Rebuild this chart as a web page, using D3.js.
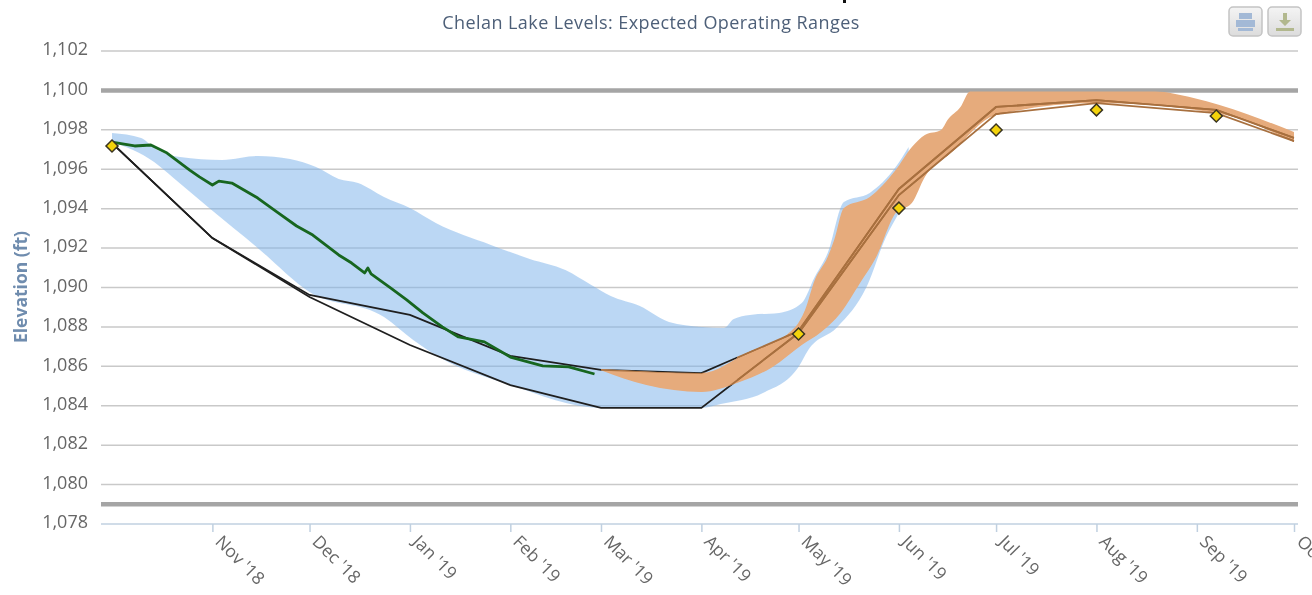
<!DOCTYPE html>
<html>
<head>
<meta charset="utf-8">
<script src="https://cdn.jsdelivr.net/npm/d3@7"></script>
<style>
  html, body { margin: 0; background: #fff; overflow: hidden; }
  svg { display: block; font-family: "Open Sans", sans-serif; filter: blur(0.45px); }
</style>
</head>
<body>
<div id="chart"></div>
<script>
// Chelan Lake Levels

const titleText = "Chelan Lake Levels: Expected Operating Ranges",
    yTitle = "Elevation (ft)";

const yTicks = [1078, 1080, 1082, 1084, 1086, 1088, 1090, 1092, 1094, 1096, 1098, 1100, 1102];
const plotLines = [1100, 1079]; // the two heavy limits

// blue band (historical range)
const blueUpperDates = ["2018-10-01","2018-10-10","2018-10-14","2018-10-22","2018-11-04","2018-11-15","2018-11-25","2018-12-03","2018-12-10","2018-12-16","2018-12-24","2019-01-01","2019-01-09","2019-01-26","2019-02-07","2019-02-18","2019-02-26","2019-03-04","2019-03-13","2019-03-22","2019-04-01","2019-04-08","2019-04-11","2019-04-16","2019-04-25","2019-05-02","2019-05-06","2019-05-10","2019-05-15","2019-05-23","2019-05-31","2019-06-04"];
const blueUpper = [1097.84,1097.59,1097.08,1096.62,1096.47,1096.67,1096.52,1096.11,1095.51,1095.30,1094.59,1094.03,1093.27,1092.16,1091.45,1090.89,1090.13,1089.57,1089.06,1088.25,1088.0,1087.95,1088.4,1088.61,1088.71,1089.21,1090.53,1091.75,1094.34,1094.8,1096.11,1097.13];
const blueLowerDates = ["2018-10-01","2018-10-14","2018-10-20","2018-10-31","2018-11-15","2018-12-01","2018-12-24","2019-01-02","2019-01-10","2019-02-01","2019-03-01","2019-04-01","2019-04-07","2019-04-20","2019-05-01","2019-05-04","2019-05-13","2019-05-22","2019-05-28","2019-06-01","2019-06-04"];
const blueLower = [1097.38,1096.37,1095.56,1094.03,1092.01,1089.77,1088.5,1087.34,1086.47,1085.05,1083.89,1083.89,1084.09,1084.65,1085.97,1086.83,1088.0,1090.03,1092.56,1093.78,1094.69];

// orange band (expected range)
const orangeUpperDates = ["2019-03-01","2019-04-01","2019-04-15","2019-04-30","2019-05-03","2019-05-06","2019-05-10","2019-05-12","2019-05-15","2019-05-23","2019-05-31","2019-06-05","2019-06-09","2019-06-14","2019-06-16","2019-06-20","2019-06-23","2019-08-19","2019-08-31","2019-09-08","2019-10-01"];
const orangeUpper = [1085.87,1085.66,1086.68,1088.0,1088.86,1090.38,1091.55,1092.41,1094.03,1094.59,1095.96,1097.13,1097.74,1097.99,1098.5,1099.16,1099.95,1099.95,1099.62,1099.26,1097.89];
const orangeLowerDates = ["2019-03-01","2019-03-15","2019-04-01","2019-04-12","2019-04-23","2019-05-02","2019-05-08","2019-05-14","2019-05-20","2019-05-25","2019-05-31","2019-06-05","2019-06-09","2019-06-17","2019-07-01","2019-08-01","2019-09-07","2019-10-01"];
const orangeLower = [1085.8,1085.05,1084.7,1085.16,1085.97,1087.08,1087.74,1088.71,1090.23,1091.55,1093.78,1094.29,1095.61,1096.82,1098.75,1099.36,1098.85,1097.38];

// rule curves and forecast points
const curveDates = ["2018-10-01","2018-11-01","2018-12-01","2019-01-01","2019-02-01","2019-03-01","2019-04-01","2019-05-01","2019-06-01","2019-07-01","2019-08-01","2019-09-07","2019-10-01"];
const curveUpper = [1097.33,1092.51,1089.62,1088.61,1086.53,1085.82,1085.66,1087.79,1095.0,1099.16,1099.51,1099.01,1097.59];
const curveLower = [1097.33,1092.51,1089.52,1087.08,1085.05,1083.89,1083.89,1087.69,1094.69,1098.8,1099.36,1098.85,1097.43];
const curveColourChange = "2019-04-12"; // curves stop being black here

const pointDates = ["2018-10-01","2019-05-01","2019-06-01","2019-07-01","2019-08-01","2019-09-07"];
const pointValues = [1097.18,1087.64,1094.03,1097.99,1099.01,1098.7];

// observed elevation
const observedDates = ["2018-10-01","2018-10-08","2018-10-13","2018-10-18","2018-10-25","2018-10-28","2018-11-01","2018-11-03","2018-11-07","2018-11-15","2018-11-21","2018-11-27","2018-12-02","2018-12-10","2018-12-14","2018-12-18","2018-12-19","2018-12-20","2018-12-26","2018-12-31","2019-01-05","2019-01-11","2019-01-16","2019-01-24","2019-02-01","2019-02-11","2019-02-19","2019-02-27"];
const observed = [1097.38,1097.18,1097.23,1096.82,1095.96,1095.61,1095.2,1095.4,1095.3,1094.54,1093.83,1093.12,1092.66,1091.65,1091.24,1090.74,1090.99,1090.69,1089.98,1089.37,1088.71,1088.0,1087.49,1087.24,1086.47,1086.02,1085.97,1085.61];

const width = 1312,
    height = 595,
    margin = ({ top: 51, right: 14, bottom: 71, left: 101 });

const parseDate = d3.timeParse("%Y-%m-%d");
const series = (dates, values) => dates.map((d, i) => [parseDate(d), values[i]]);

const svg = d3.select("#chart")
    .append("svg")
    .attr("width", width)
    .attr("height", height)
    .attr("viewBox", [0, 0, width, height]);

const x = d3.scaleTime()
    .domain([parseDate("2018-10-01"), parseDate("2019-10-01")])
    .range([112, 1294]);

const y = d3.scaleLinear()
    .domain([1078, 1102])
    .range([height - margin.bottom, margin.top]);

const line = d3.line()
    .x(d => x(d[0]))
    .y(d => y(d[1]));

// band edges are smoothed separately so they don't overshoot, then joined
const edge = d3.line()
    .x(d => x(d[0]))
    .y(d => y(d[1]))
    .curve(d3.curveMonotoneX);

const band = (upper, lower) => edge(upper) + "L" + edge(lower.slice().reverse()).slice(1) + "Z";

// grid
svg.append("g")
    .selectAll("line")
    .data(yTicks.slice(1))
    .join("line")
    .attr("x1", margin.left)
    .attr("x2", width - margin.right)
    .attr("y1", d => y(d))
    .attr("y2", d => y(d))
    .attr("stroke", "#c9c9c9")
    .attr("stroke-width", 1.5);

// axes
const yAxis = svg.append("g")
    .attr("transform", `translate(${margin.left},0)`)
    .call(d3.axisLeft(y).tickValues(yTicks).tickFormat(d3.format(",")).tickSize(0).tickPadding(13));
yAxis.select(".domain").remove();
yAxis.selectAll("text")
    .attr("font-size", 18)
    .attr("font-family", "'Open Sans', sans-serif")
    .attr("fill", "#666")
    .attr("y", -2);

const xTickDates = d3.timeMonth.range(parseDate("2018-11-01"), parseDate("2019-10-02"));

const xAxis = svg.append("g")
    .attr("transform", `translate(0,${height - margin.bottom})`)
    .call(d3.axisBottom(x).tickValues(xTickDates).tickFormat(d3.timeFormat("%b '%y")).tickSize(8).tickSizeOuter(0));
xAxis.select(".domain")
    .attr("d", `M${margin.left},0H${width - margin.right}`)
    .attr("stroke", "#c0d0e0")
    .attr("stroke-width", 1.5);
xAxis.selectAll(".tick line").attr("stroke", "#c0d0e0").attr("stroke-width", 1.5);
xAxis.selectAll("text")
    .attr("font-size", 17.5)
    .attr("font-family", "'Open Sans', sans-serif")
    .attr("fill", "#666")
    .attr("text-anchor", "start")
    .attr("transform", "translate(12,8) rotate(45)")
    .attr("dy", "0.35em")
    .attr("y", 9)
    .attr("x", 0);

// heavy limits
svg.append("g")
    .selectAll("line")
    .data(plotLines)
    .join("line")
    .attr("x1", margin.left)
    .attr("x2", width - margin.right)
    .attr("y1", d => y(d))
    .attr("y2", d => y(d))
    .attr("stroke", "#a5a5a5")
    .attr("stroke-width", 4.5);

// blue band
svg.append("path")
    .attr("d", band(series(blueUpperDates, blueUpper), series(blueLowerDates, blueLower)))
    .attr("fill", "#7db3ea")
    .attr("fill-opacity", 0.52);

// rule curves: black up to the change date, brown after it and inside the orange
const curves = [series(curveDates, curveUpper), series(curveDates, curveLower)];
const changeX = x(parseDate(curveColourChange));

svg.append("clipPath")
    .attr("id", "black-part")
    .append("rect")
    .attr("x", 0)
    .attr("y", 0)
    .attr("width", changeX)
    .attr("height", height);

svg.append("clipPath")
    .attr("id", "brown-part")
    .append("rect")
    .attr("x", changeX)
    .attr("y", 0)
    .attr("width", width - changeX)
    .attr("height", height);

svg.append("g")
    .attr("clip-path", "url(#black-part)")
    .selectAll("path")
    .data(curves)
    .join("path")
    .attr("d", line)
    .attr("fill", "none")
    .attr("stroke", "#1f1f1f")
    .attr("stroke-width", 1.8);

const orangePath = band(series(orangeUpperDates, orangeUpper), series(orangeLowerDates, orangeLower));
svg.append("path")
    .attr("d", orangePath)
    .attr("fill", "#e6ab7c");

svg.append("clipPath")
    .attr("id", "orange-clip")
    .append("path")
    .attr("d", orangePath);

svg.append("g")
    .attr("clip-path", "url(#orange-clip)")
    .selectAll("path")
    .data(curves)
    .join("path")
    .attr("d", line)
    .attr("fill", "none")
    .attr("stroke", "#a8703f")
    .attr("stroke-width", 1.8);

svg.append("g")
    .attr("clip-path", "url(#brown-part)")
    .selectAll("path")
    .data(curves)
    .join("path")
    .attr("d", line)
    .attr("fill", "none")
    .attr("stroke", "#a8703f")
    .attr("stroke-width", 1.8);

// observed
svg.append("path")
    .attr("d", line(series(observedDates, observed)))
    .attr("fill", "none")
    .attr("stroke", "#17661f")
    .attr("stroke-width", 2.8)
    .attr("stroke-linejoin", "round");

// forecast diamonds
svg.append("g")
    .selectAll("path")
    .data(series(pointDates, pointValues))
    .join("path")
    .attr("d", d3.symbol(d3.symbolSquare, 72))
    .attr("transform", d => `translate(${x(d[0])},${y(d[1])}) rotate(45)`)
    .attr("fill", "#f3d30b")
    .attr("stroke", "#3a3420")
    .attr("stroke-width", 1.5);

// title and axis title
svg.append("text")
    .attr("x", 651)
    .attr("y", 29)
    .attr("text-anchor", "middle")
    .attr("font-size", 18)
    .attr("letter-spacing", 0.42)
    .attr("fill", "#4d5f78")
    .text(titleText);

svg.append("text")
    .attr("transform", "translate(27,287) rotate(-90)")
    .attr("text-anchor", "middle")
    .attr("font-size", 17.5)
    .attr("font-weight", "bold")
    .attr("fill", "#6f8cae")
    .text(yTitle);

// stray mark above the title
svg.append("path")
    .attr("d", "M837,0H846V3H843V0Z")
    .attr("fill", "#111");

// print and download buttons
const buttons = svg.append("g");
const grad = svg.append("defs").append("linearGradient")
    .attr("id", "btn").attr("x1", 0).attr("x2", 0).attr("y1", 0).attr("y2", 1);
grad.append("stop").attr("offset", 0).attr("stop-color", "#f4f4f4");
grad.append("stop").attr("offset", 1).attr("stop-color", "#dcdcdc");

buttons.selectAll("rect")
    .data([1229, 1268])
    .join("rect")
    .attr("x", d => d)
    .attr("y", 7)
    .attr("width", 33)
    .attr("height", 29)
    .attr("rx", 4)
    .attr("fill", "url(#btn)")
    .attr("stroke", "#c4c4c4")
    .attr("stroke-width", 1.5);

buttons.append("path")
    .attr("d", "M1239,13H1252V19H1239Z M1236,20H1255V27H1236Z M1238,28H1253V31H1238Z")
    .attr("fill", "#a3b9d6");
buttons.append("path")
    .attr("d", "M1283,13H1287V20H1291L1285,26L1279,20H1283Z M1276,28H1294V31H1276Z")
    .attr("fill", "#b2b88e");
</script>
</body>
</html>
